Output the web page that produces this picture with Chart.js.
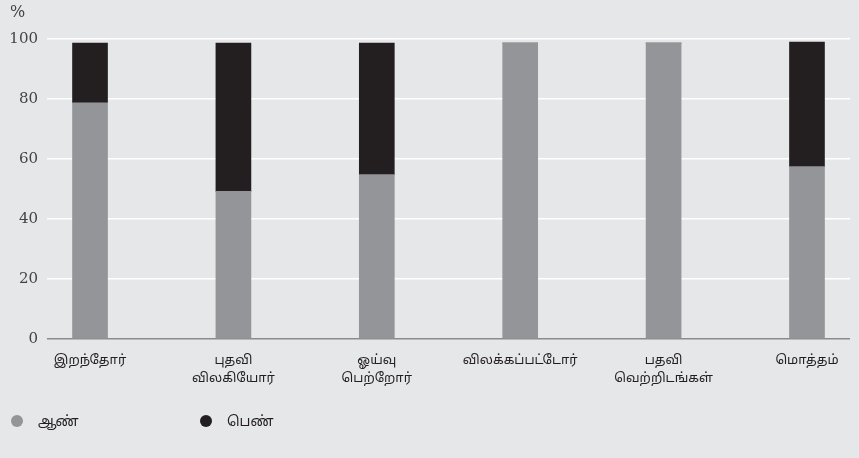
<!DOCTYPE html>
<html>
<head>
<meta charset="utf-8">
<script src="https://cdn.jsdelivr.net/npm/chart.js@4"></script>
<style>
  html, body { margin: 0; padding: 0; background: #e6e7e8; }
  #wrap { position: relative; width: 859px; height: 458px; }
  #legend { position: absolute; left: 11px; top: 414px; font: 14px "Noto Sans Tamil", "Lohit Tamil", sans-serif; color: #231f20; }
  #legend span.item { position: absolute; white-space: nowrap; }
  #legend span.dot { display: inline-block; width: 12px; height: 12px; border-radius: 50%; vertical-align: -1px; margin-right: 15px; }
</style>
</head>
<body>
<div id="wrap">
  <canvas id="chart" width="859" height="458"></canvas>
  <div id="legend"></div>
</div>
<script>
const categories = [
  ["இறந்தோர்"],
  ["புதவி", "விலகியோர்"],
  ["ஓய்வு", "பெற்றோர்"],
  ["விலக்கப்பட்டோர்"],
  ["பதவி", "வெற்றிடங்கள்"],
  ["மொத்தம்"]
];
const male = [78.8, 49.2, 54.8, 98.7, 98.7, 57.5];
const female = [19.9, 49.5, 43.9, 0, 0, 41.5];
const seriesNames = ["ஆண்", "பெண்"];
const colors = ["#939598", "#231f20"];

const toPoints = arr => arr.map((v, i) => ({ x: i, y: v }));

new Chart(document.getElementById("chart"), {
  type: "bar",
  data: {
    datasets: [
      { label: seriesNames[0], data: toPoints(male), backgroundColor: colors[0], barThickness: 35 },
      { label: seriesNames[1], data: toPoints(female), backgroundColor: colors[1], barThickness: 35 }
    ]
  },
  options: {
    responsive: false,
    animation: false,
    layout: { padding: { left: 10, right: 9, top: 3, bottom: 56 } },
    plugins: {
      legend: { display: false },
      tooltip: { enabled: false },
      title: {
        display: true,
        text: "%",
        align: "start",
        color: "#444",
        font: { family: "DejaVu Serif", size: 16, weight: "normal" },
        padding: { top: 0, bottom: 17 }
      }
    },
    scales: {
      x: {
        type: "linear",
        stacked: true,
        min: -0.3,
        max: 5.3,
        offset: false,
        grid: { display: false, drawTicks: false },
        border: { display: false },
        afterBuildTicks: s => { s.ticks = categories.map((_, i) => ({ value: i })); },
        ticks: {
          autoSkip: false,
          maxRotation: 0,
          padding: 14,
          color: "#231f20",
          font: { family: "Noto Sans Tamil, Lohit Tamil, sans-serif", size: 13, lineHeight: 1.35 },
          callback: v => categories[v]
        }
      },
      y: {
        stacked: true,
        min: 0,
        max: 100,
        afterFit: s => { s.width = 37; },
        grid: {
          drawTicks: false,
          lineWidth: 1.5,
          color: ctx => ctx.tick.value === 0 ? "#8a8b8d" : "#ffffff"
        },
        border: { display: false },
        ticks: {
          stepSize: 20,
          padding: 9,
          color: "#444",
          font: { family: "DejaVu Serif", size: 15 }
        }
      }
    }
  }
});

const legend = document.getElementById("legend");
seriesNames.forEach((name, i) => {
  const item = document.createElement("span");
  item.className = "item";
  item.style.left = (i * 189) + "px";
  item.innerHTML = '<span class="dot" style="background:' + colors[i] + '"></span>' + name;
  legend.appendChild(item);
});
</script>
</body>
</html>
